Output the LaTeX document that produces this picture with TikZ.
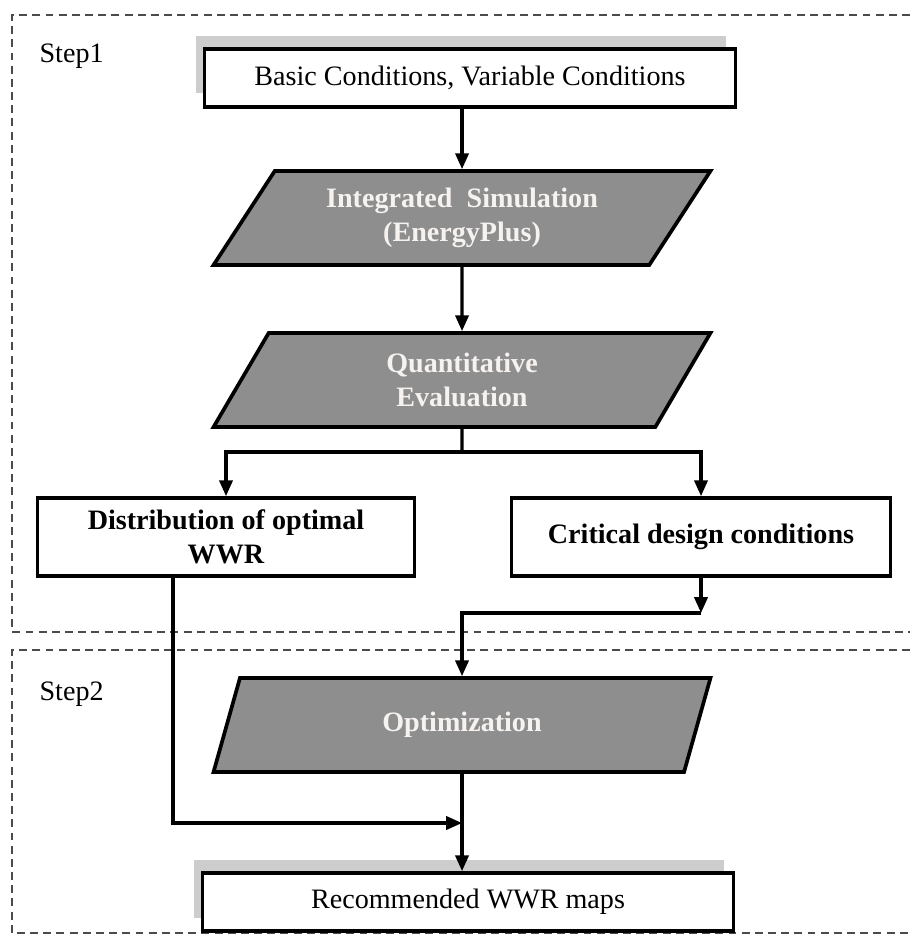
\documentclass[tikz,border=0pt]{standalone}
\usepackage{fontspec}
\setmainfont{Liberation Serif}
\usepackage{tikz}
\usetikzlibrary{shapes.geometric,arrows.meta,shadows}

\definecolor{paragray}{RGB}{142,142,142}
\definecolor{framegray}{RGB}{75,75,75}
\definecolor{shadowgray}{RGB}{205,205,205}
\definecolor{labelwhite}{RGB}{246,242,240}
\newcommand{\flowfont}{\fontsize{16pt}{19pt}\selectfont}

\tikzset{
	frame/.style={draw=framegray, line width=1.2pt, dash pattern=on 4.5pt off 3pt},
	whitebox/.style={draw=black, line width=2.1pt, fill=white, minimum width=10.62cm, minimum height=1.16cm,
		drop shadow={shadow xshift=-0.18cm, shadow yshift=0.27cm, fill=shadowgray, opacity=1}},
	resultbox/.style={draw=black, line width=2.1pt, fill=white, minimum height=1.56cm, align=center,
		font=\flowfont\bfseries},
	graybox/.style={trapezium, trapezium left angle=44, trapezium right angle=136, trapezium stretches body,
		draw=black, line width=2.1pt, fill=paragray, text=labelwhite, align=center, inner sep=0pt,
		minimum width=9.94cm, minimum height=1.88cm, font=\flowfont\bfseries},
	stepnote/.style={anchor=base west, inner sep=0pt}
}

\begin{document}
\begin{tikzpicture}[x=0.02cm, y=-0.02cm, font=\flowfont, line width=1.8pt, >={Triangle[length=9pt,width=7.5pt]}]
			\useasboundingbox (0,0) rectangle (910,935);
			
			\draw[frame] (910,15) -- (12,15) -- (12,632) -- (910,632);
			\draw[frame] (910,650) -- (12,650) -- (12,933) -- (910,933);
			\node[stepnote] (s1) at (38,63) {Step1};
			\node[stepnote] (s2) at (38,700) {Step2};
			
			\node[whitebox] (cond) at (470,78) {Basic Conditions, Variable Conditions};
			\node[graybox] (sim) at (462,218) {Integrated~~Simulation\\(EnergyPlus)};
			\node[graybox] (eval) at (462,380) {Quantitative\\Evaluation};
			\node[resultbox, minimum width=7.54cm] (dist) at (226,537) {Distribution of optimal\\WWR};
			\node[resultbox, minimum width=7.58cm] (crit) at (701,537) {Critical design conditions};
			\node[graybox] (opt) at (462,725) {Optimization};
			\node[whitebox] (maps) at (468,902) {Recommended WWR maps};
			
			\coordinate (split) at (462,452);
			\coordinate (turn) at (701,613);
			\coordinate (leg) at (173,823);
			
			\path [->] (cond.south -| sim.north) edge (sim.north);
			\path [->] (sim.south) edge (eval.north);
			\draw (eval.south) -- (split);
			\draw [->] (split) -| (dist.north);
			\draw [->] (split) -| (crit.north);
			\draw [->] (crit.south) -- (turn);
			\draw [->] (turn) -- (turn -| opt.north) -- (opt.north);
			\draw [->] (dist.south -| leg) -- (leg) -- (leg -| opt.south);
			\draw [->] (opt.south) -- (opt.south |- maps.north);
		\end{tikzpicture}
\end{document}
